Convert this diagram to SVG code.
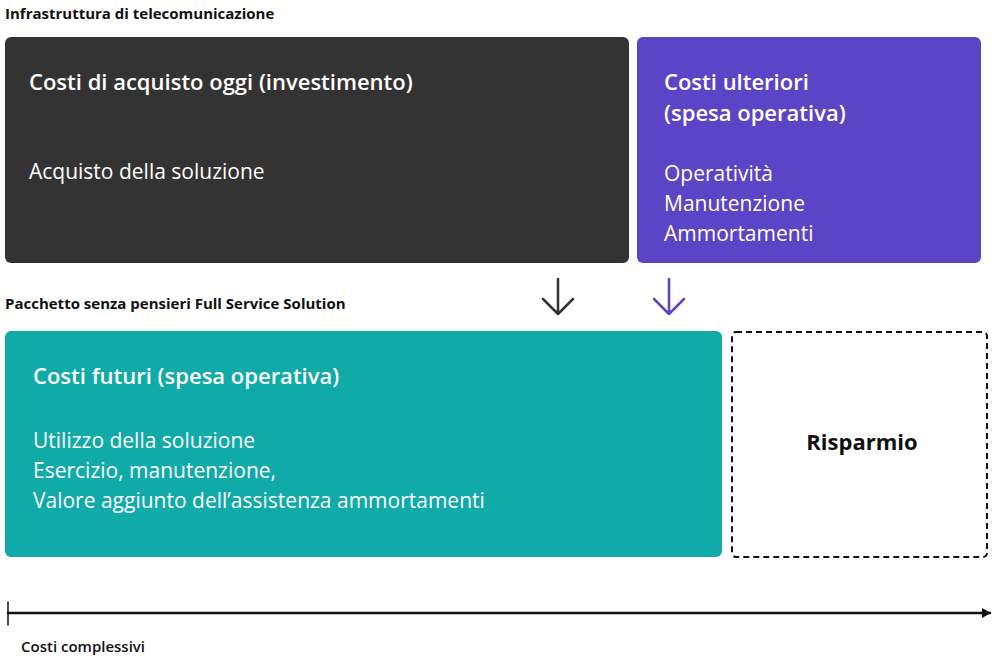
<svg xmlns="http://www.w3.org/2000/svg" width="1000" height="661" viewBox="0 0 1000 661">
<style>
text{font-family:"Open Sans","Noto Sans",sans-serif;}
.h{font-size:15px;font-weight:700;fill:#111;}
.t{font-size:22px;font-weight:600;fill:#fff;}
.b{font-size:21px;fill:#fff;}
</style>
<defs>
<marker id="ah" markerWidth="10" markerHeight="10" refX="8" refY="5" orient="auto" markerUnits="userSpaceOnUse"><path d="M0,0 L9,5 L0,10 Z" fill="#111"/></marker>
</defs>
<rect width="1000" height="661" fill="#fff"/>
<text class="h" x="5" y="19">Infrastruttura di telecomunicazione</text>
<text class="h" x="5" y="309">Pacchetto senza pensieri Full Service Solution</text>
<g id="acquisto">
<rect x="5" y="37" width="624" height="226" rx="6" fill="#333333"/>
<text class="t" x="29" y="90">Costi di acquisto oggi (investimento)</text>
<text class="b" x="29" y="179">Acquisto della soluzione</text>
</g>
<g id="ulteriori">
<rect x="637" y="37" width="344" height="226" rx="6" fill="#5a45c6"/>
<text class="t" x="664" y="90">Costi ulteriori</text>
<text class="t" x="664" y="121">(spesa operativa)</text>
<text class="b" x="664" y="181">Operatività</text>
<text class="b" x="664" y="211">Manutenzione</text>
<text class="b" x="664" y="241">Ammortamenti</text>
</g>
<g id="futuri">
<rect x="5" y="331" width="717" height="226" rx="6" fill="#10aaa8"/>
<text class="t" x="33" y="384">Costi futuri (spesa operativa)</text>
<text class="b" x="33" y="448">Utilizzo della soluzione</text>
<text class="b" x="33" y="478">Esercizio, manutenzione,</text>
<text class="b" x="33" y="508">Valore aggiunto dell’assistenza ammortamenti</text>
</g>
<g id="risparmio">
<rect x="732" y="332" width="255" height="225" rx="4" fill="none" stroke="#111" stroke-width="2" stroke-dasharray="6,4"/>
<text x="862" y="450" text-anchor="middle" font-size="22" font-weight="700" fill="#111" style="font-family:'Open Sans',sans-serif">Risparmio</text>
</g>
<g id="connectors" fill="none" stroke-width="2.5" stroke-linecap="round" stroke-linejoin="round">
<path d="M558,279 V314 M543,299 L558,314 L573,299" stroke="#333"/>
<path d="M669,279 V314 M654,299 L669,314 L684,299" stroke="#5a45c6"/>
<path d="M8,613 H990" stroke="#111" marker-end="url(#ah)"/>
<path d="M8,602 V625" stroke="#111" stroke-width="1.5"/>
</g>
<text x="21" y="652" font-size="15" font-weight="600" fill="#111">Costi complessivi</text>
</svg>
